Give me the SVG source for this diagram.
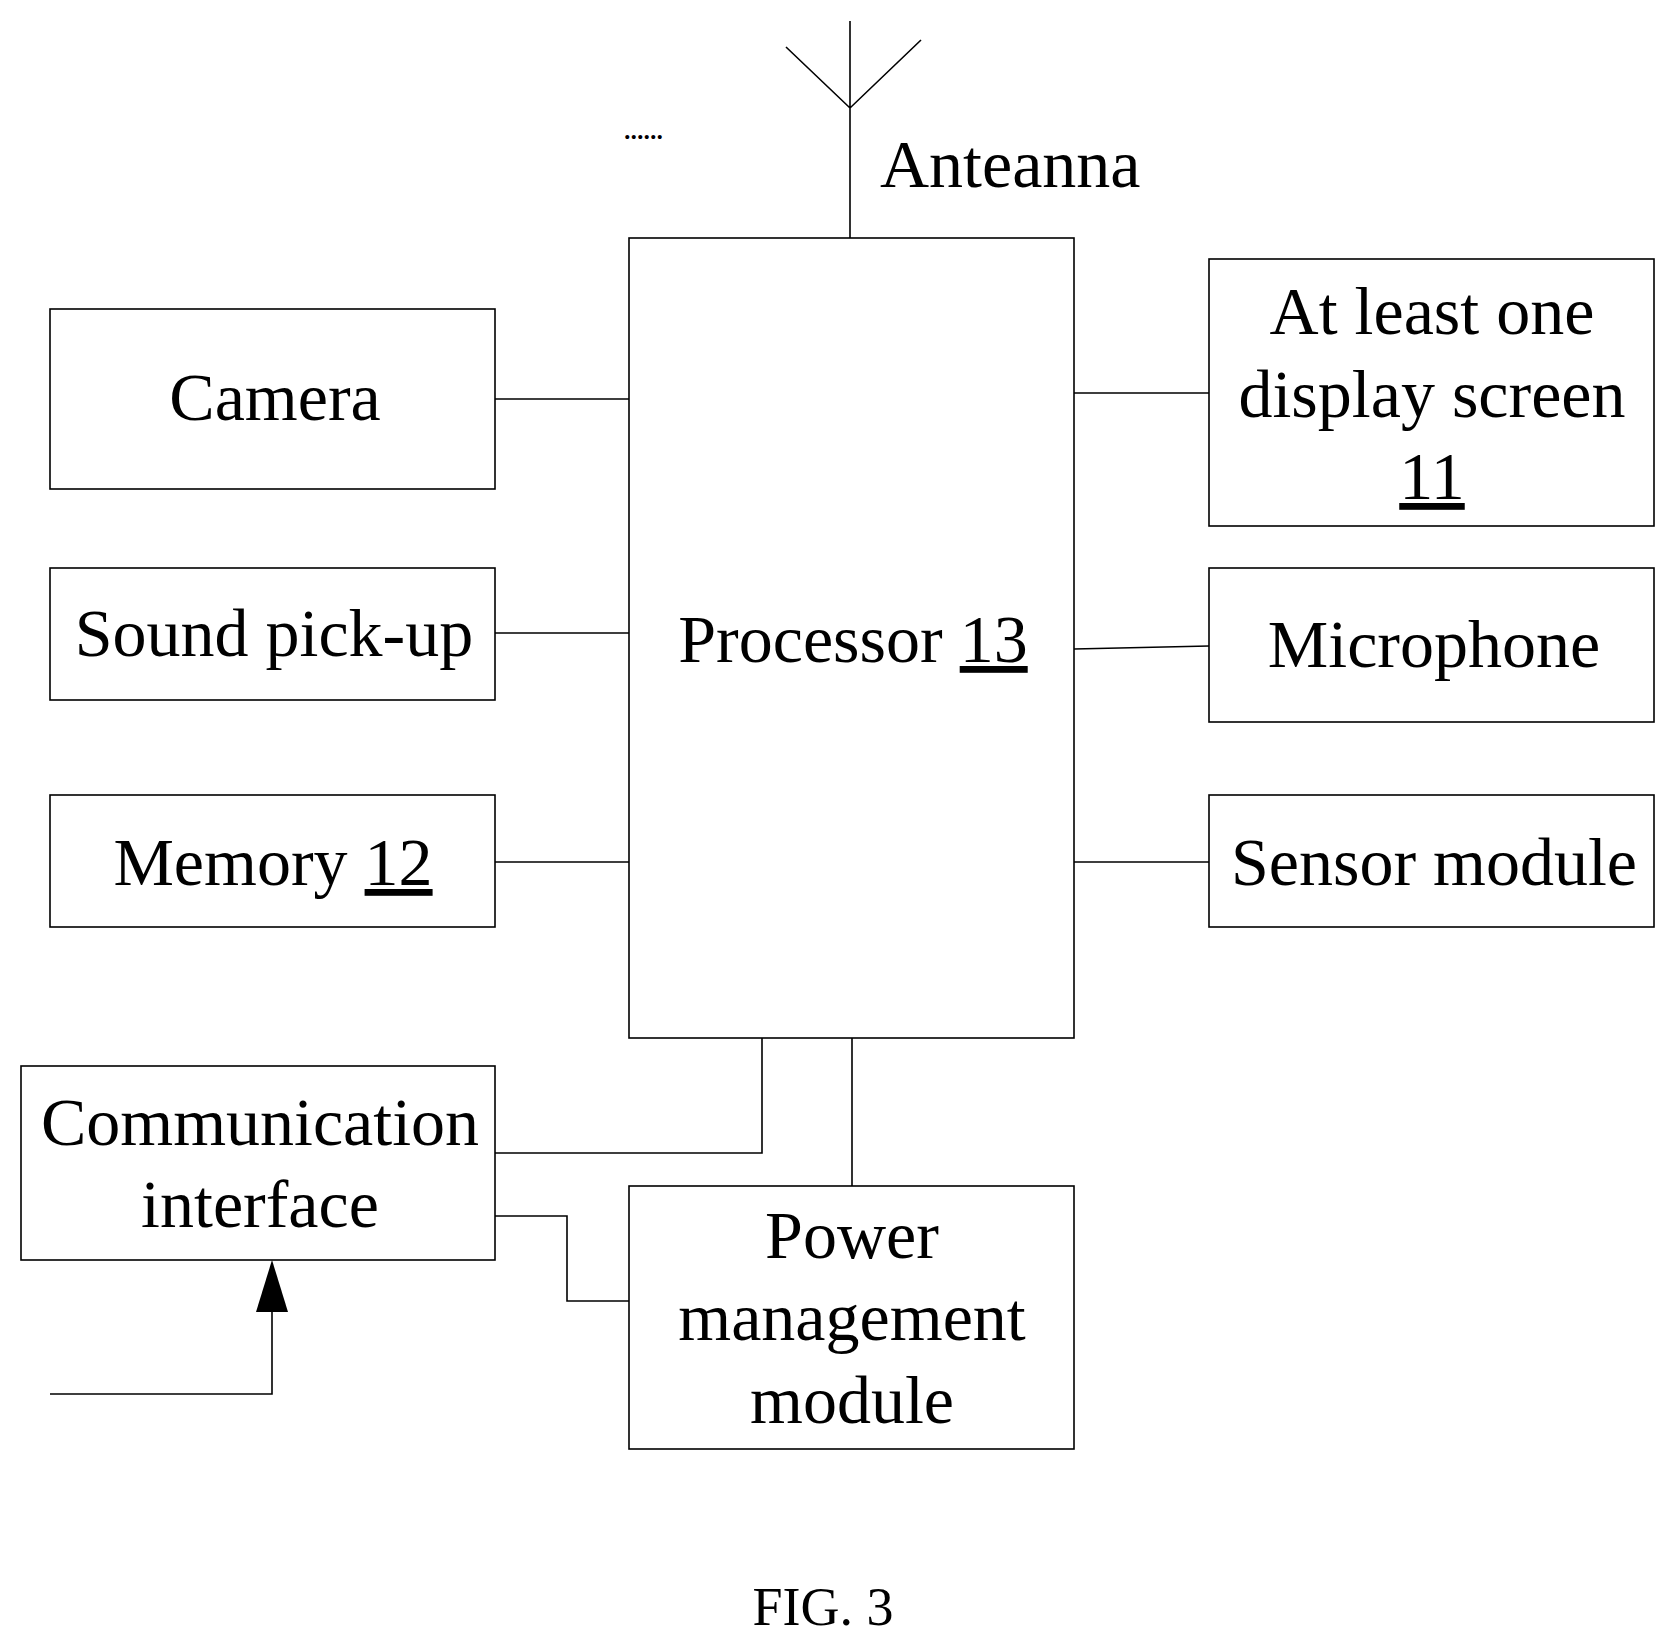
<svg xmlns="http://www.w3.org/2000/svg" width="1676" height="1647" viewBox="0 0 1676 1647">
<style>
.box{fill:#fff;stroke:#000;stroke-width:1.6}
.ln{fill:none;stroke:#000;stroke-width:1.6}
text{font-family:"Liberation Serif","Times New Roman",serif;font-size:68px;fill:#000;text-anchor:middle}
.u{text-decoration:underline}
</style>
<rect width="1676" height="1647" fill="#fff"/>
<g id="connectors">
<path class="ln" d="M850 21V242M786 47L850 108L921 40"/>
<path class="ln" d="M495 399H629M495 633H629M495 862H629"/>
<path class="ln" d="M1074 393H1209M1074 649L1209 646M1074 862H1209"/>
<path class="ln" d="M495 1153H762V1038M852 1038V1186M495 1216H567V1301H629"/>
<path class="ln" d="M50 1394H272V1300"/>
<polygon points="272,1260 256,1312 288,1312" fill="#000"/>
</g>
<g id="antenna-label">
<text x="623" y="139" style="text-anchor:start;font-size:34px;letter-spacing:-2px">......</text>
<text x="880" y="187" style="text-anchor:start">Anteanna</text>
</g>
<g id="processor"><rect class="box" x="629" y="238" width="445" height="800"/><text x="853" y="662">Processor <tspan class="u">13</tspan></text></g>
<g id="camera"><rect class="box" x="50" y="309" width="445" height="180"/><text x="275" y="420">Camera</text></g>
<g id="sound"><rect class="box" x="50" y="568" width="445" height="132"/><text x="274" y="656">Sound pick-up</text></g>
<g id="memory"><rect class="box" x="50" y="795" width="445" height="132"/><text x="273" y="885">Memory <tspan class="u">12</tspan></text></g>
<g id="display"><rect class="box" x="1209" y="259" width="445" height="267"/><text x="1432" y="334">At least one</text><text x="1432" y="417">display screen</text><text x="1432" y="499" class="u">11</text></g>
<g id="microphone"><rect class="box" x="1209" y="568" width="445" height="154"/><text x="1434" y="667">Microphone</text></g>
<g id="sensor"><rect class="box" x="1209" y="795" width="445" height="132"/><text x="1434" y="885">Sensor module</text></g>
<g id="comm"><rect class="box" x="21" y="1066" width="474" height="194"/><text x="260" y="1145">Communication</text><text x="260" y="1227">interface</text></g>
<g id="power"><rect class="box" x="629" y="1186" width="445" height="263"/><text x="852" y="1258">Power</text><text x="852" y="1340">management</text><text x="852" y="1423">module</text></g>
<text x="823" y="1625" style="font-size:54px">FIG. 3</text>
</svg>
